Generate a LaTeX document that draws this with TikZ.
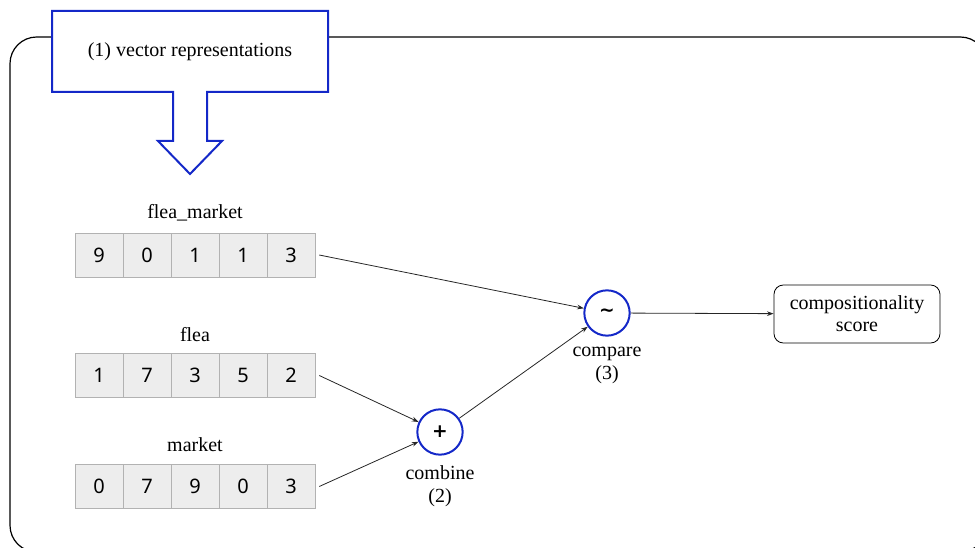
\documentclass[tikz,border=0pt]{standalone}
\usepackage{fontspec}
\setmainfont{Liberation Serif}
\setsansfont{Noto Sans}
\newfontfamily\opfont{DejaVu Sans}
\usepackage{tikz}
\usetikzlibrary{arrows.meta, positioning}
\definecolor{opblue}{RGB}{20,40,200}
\tikzset{
  cell/.style = {draw = black!30, fill = black!7, minimum width = 36pt, minimum height = 33pt,
                 inner sep = 0pt, font = \sffamily\fontsize{15}{18}\selectfont},
  veclabel/.style = {font = \fontsize{15}{18}\selectfont},
  op/.style = {circle, draw = opblue, line width = 1.5pt, minimum size = 34pt, inner sep = 0pt,
               font = \opfont\bfseries\fontsize{14}{16}\selectfont},
  oplabel/.style = {align = center, font = \fontsize{15}{17.5}\selectfont},
  link/.style = {draw = black!85, line width = .6pt, -{Stealth[length = 5pt, width = 3.5pt]}}
}
\begin{document}
\begin{tikzpicture}[x = .75pt, y = -.75pt]
            \useasboundingbox (0,0) rectangle (975,548);
            \clip (0,0) rectangle (975,548);
            \draw[line width = .9pt, rounded corners = 20pt] (10,37) rectangle (987,552);
            \draw[opblue, fill = white, line width = 1.5pt]
                (52,11) -- (328,11) -- (328,92) -- (207,92) -- (207,141) -- (222,141) -- (190,174)
                -- (158,141) -- (173,141) -- (173,92) -- (52,92) -- cycle;
            \node[veclabel] (step1) at (190,52) {(1) vector representations};
            \foreach \v [count = \i] in {9,0,1,1,3}
                \node[cell] (fm\i) at (51+48*\i,255) {\v};
            \foreach \v [count = \i] in {1,7,3,5,2}
                \node[cell] (fl\i) at (51+48*\i,375.5) {\v};
            \foreach \v [count = \i] in {0,7,9,0,3}
                \node[cell] (mk\i) at (51+48*\i,486.5) {\v};
            \node[veclabel] (fmname) at (195,213) {flea\_market};
            \node[veclabel] (flname) at (195,335) {flea};
            \node[veclabel] (mkname) at (195,445) {market};
            \node[op] (combine) at (440,432) {+};
            \node[op] (compare) at (607,313) {\textasciitilde};
            \node[oplabel, below = 4pt of combine] (combinelbl) {combine\\(2)};
            \node[oplabel, below = 4pt of compare] (comparelbl) {compare\\(3)};
            \node[draw, rounded corners = 7pt, line width = .6pt, minimum width = 124.5pt, minimum height = 43.5pt,
                  align = center, font = \fontsize{15}{16.5}\selectfont] (score) at (857,314) {compositionality\\score};
            \draw[link] ([xshift = 3pt]fm5.east) -- (compare);
            \draw[link] ([xshift = 3pt]fl5.east) -- (combine);
            \draw[link] ([xshift = 3pt]mk5.east) -- (combine);
            \draw[link] (combine) -- (compare);
            \draw[link] (compare) -- (score);
        \end{tikzpicture}
\end{document}
